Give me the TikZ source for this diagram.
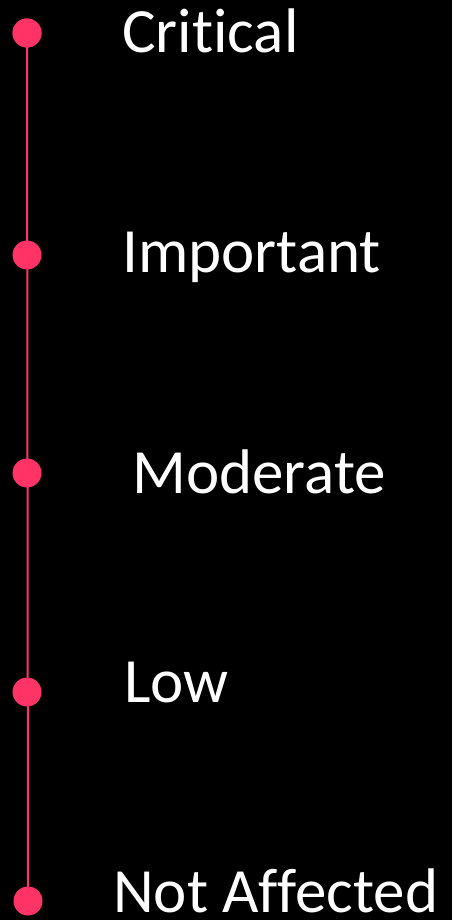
\documentclass[tikz,border=0pt]{standalone}
\usepackage{fontspec}
\setmainfont{Carlito}[Ligatures={NoCommon}]
\definecolor{dotpink}{RGB}{255,51,102}
\begin{document}
\begin{tikzpicture}[x=1pt,y=-1pt,
  dot/.style={circle,fill=dotpink,inner sep=0pt,minimum size=29pt},
  lbl/.style={anchor=base west,inner sep=0pt,text depth=0pt,text=white,font=\fontsize{63}{63}\selectfont}]
\fill[black] (0,0) rectangle (452,920);
\useasboundingbox (0,0) rectangle (452,920);
\node[dot] (d1) at (27,33) {};
\node[dot] (d2) at (27,255) {};
\node[dot] (d3) at (27,473) {};
\node[dot] (d4) at (27,692) {};
\node[dot] (d5) at (28,901) {};
\draw[dotpink,line width=2pt] (d1.center) -- (d5.center);
\node[dot] at (d1) {};
\node[lbl] (t1) at (122,53) {Critical};
\node[lbl] (t2) at (122,272) {Important};
\node[lbl] (t3) at (132,493) {Moderate};
\node[lbl] (t4) at (124,702) {Low};
\node[lbl] (t5) at (113,912) {Not Affected};
\end{tikzpicture}
\end{document}
